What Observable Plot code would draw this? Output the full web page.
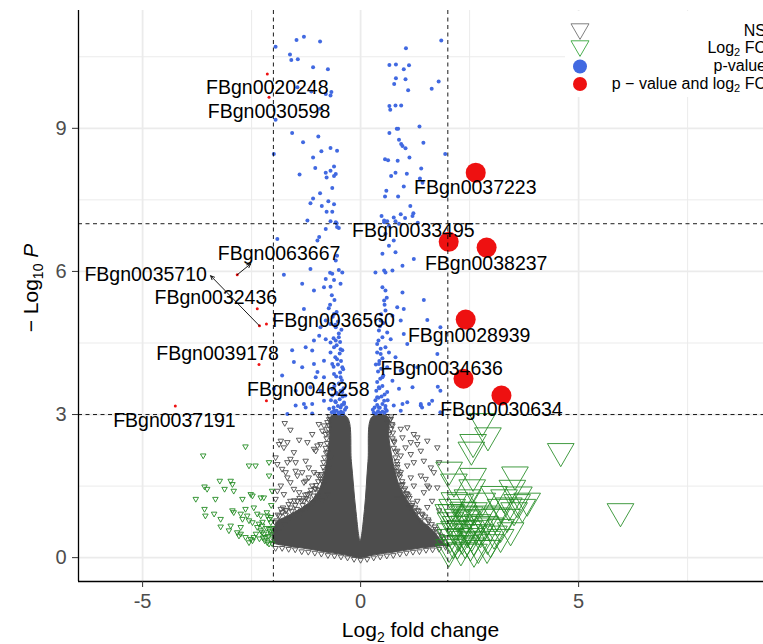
<!DOCTYPE html>
<html><head><meta charset="utf-8">
<script src="https://cdn.jsdelivr.net/npm/d3@7"></script>
<script src="https://cdn.jsdelivr.net/npm/@observablehq/plot@0.6"></script>
<style>
html,body{margin:0;padding:0;background:#fff;overflow:hidden;}
#chart{width:763px;height:644px;}
</style></head><body><div id="chart"></div>
<script>
// ---------- DATA ----------
// significant genes: p-value and log2 FC
const sigGenes = ["FBgn0037223","FBgn0033495","FBgn0038237","FBgn0028939","FBgn0034636","FBgn0030634",
  "FBgn0020248","FBgn0030598","FBgn0063667","FBgn0035710","FBgn0032436","FBgn0036560","FBgn0039178","FBgn0046258","FBgn0037191"];
const sigLog2FC = [2.64,2.02,2.89,2.41,2.36,3.23,-2.14,-2.10,-2.83,-2.32,-2.37,-2.16,-2.33,-2.16,-4.25];
const sigNegLog10P = [8.07,6.62,6.50,4.99,3.75,3.40,10.14,9.65,5.93,4.86,5.22,4.90,4.05,3.29,3.18];

// p-value only (|log2FC| < 2)
const pvalPoints = [
[-1.95,10.71],[-1.47,10.85],[-1.30,10.92],[-0.93,10.82],[-1.62,10.55],[-1.59,10.43],[-1.44,10.45],[-1.09,10.28],[-0.75,10.24],[-1.45,9.86],[-1.13,9.77],[-0.80,9.72],[-0.67,9.76],[-0.69,9.69],[-0.93,9.41],[-1.95,9.18],[-1.57,8.90],[-1.32,8.71],[-0.97,8.83],[-0.69,8.59],[-0.54,8.53],[-0.90,8.52],[-1.99,8.46],[-1.09,8.39],[-0.61,8.20],[-1.04,8.17],[-0.69,8.11],[-0.80,8.07],[-0.57,8.04],[-0.61,8.00],[-1.40,8.03],[-0.78,7.97],[-0.65,7.75],[-0.93,7.64],[-1.09,7.53],[-1.15,7.43],[-0.74,7.47],[-0.61,7.41],[-0.89,7.37],[-0.78,7.25],[-0.65,7.25],[-1.22,7.07],[-0.69,7.05],[-0.55,7.01],[-0.50,6.91],
[1.85,10.84],[1.04,10.68],[0.66,10.33],[0.81,10.34],[1.11,10.32],[0.99,10.24],[0.81,10.05],[1.03,10.03],[0.77,9.93],[1.79,9.98],[1.63,9.83],[1.09,9.80],[0.66,9.47],[0.68,9.39],[0.80,9.48],[0.93,9.48],[0.83,8.99],[0.86,8.99],[1.35,9.04],[0.66,8.90],[0.88,8.76],[1.44,8.70],[0.93,8.67],[0.96,8.63],[1.03,8.58],[1.94,8.46],[0.56,8.35],[0.63,8.33],[0.85,8.32],[1.12,8.39],[1.39,8.16],[0.80,8.07],[1.06,8.05],[0.70,8.00],[1.36,7.95],[1.42,7.86],[0.99,7.78],[0.59,7.69],[0.56,7.57],[0.86,7.57],[1.14,7.37],[0.92,7.20],[1.21,7.22],[1.19,7.16],[0.48,7.16],[0.54,7.07],[0.61,7.05],[0.76,7.13],[0.80,7.05],[1.02,7.12],[1.31,7.02],[0.88,7.00],
[-1.91,6.68],[-0.99,6.65],[-0.95,6.72],[-0.54,6.93],[-0.57,7.03],[-0.80,6.89],[-1.15,6.05],[-1.76,5.93],[-1.34,5.74],[-1.07,5.60],[-0.80,5.84],[-0.70,5.97],[-0.65,5.95],[-0.61,5.82],[-0.69,5.68],[-0.50,6.03],[-0.42,5.98],[-0.46,5.74],[-0.84,5.67],[-0.57,6.23],[-0.54,6.33],[-1.30,5.21],[-0.73,5.23],[-0.61,5.11],[-0.80,4.97],[-0.69,4.90],[-0.57,4.83],[-0.92,4.83],[-0.95,4.65],[-0.80,4.58],[-0.69,4.51],[-0.57,4.55],[-0.50,4.62],[-0.61,4.41],[-0.46,4.37],[-0.69,4.30],[-1.07,4.55],[-1.26,4.41],[-1.57,4.35],[-1.11,4.34],[-1.53,4.10],[-1.34,3.99],[-1.07,4.06],[-0.84,4.13],[-0.65,4.06],[-0.54,4.16],[-0.42,3.99],[-0.99,3.89],[-1.03,3.78],[-0.84,3.78],[-0.61,3.85],[-0.46,3.78],[-1.80,3.82],[-1.99,3.54],[-1.49,3.50],[-1.15,3.57],[-0.92,3.50],[-0.65,3.54],[-0.54,3.43],[-0.42,3.47],[-1.30,3.22],[-0.84,3.29],[-0.57,3.26],[-0.46,3.15],[-0.38,3.22],[-0.61,3.08],[-0.42,3.01],[-0.50,3.02],
[0.54,7.03],[0.65,6.96],[0.57,6.79],[0.76,6.65],[0.65,6.54],[0.50,6.37],[0.80,6.40],[1.22,6.26],[0.96,6.12],[0.34,5.98],[0.54,6.02],[0.57,5.98],[0.73,6.02],[0.50,5.67],[0.57,5.60],[0.96,5.56],[1.45,5.40],[0.54,5.39],[0.84,5.25],[0.99,5.21],[0.57,5.18],[0.73,5.07],[0.46,4.97],[0.92,4.97],[1.53,4.98],[1.83,4.83],[0.42,4.76],[0.61,4.72],[0.99,4.69],[0.69,4.58],[0.38,4.48],[0.57,4.41],[1.07,4.48],[0.46,4.27],[0.65,4.30],[0.80,4.20],[1.76,4.27],[0.42,4.06],[0.61,3.99],[0.92,3.92],[1.30,3.99],[0.50,3.78],[0.73,3.71],[0.42,3.57],[0.61,3.47],[0.88,3.54],[1.19,3.57],[1.83,3.50],[0.38,3.36],[0.54,3.29],[1.07,3.26],[1.38,3.22],[1.64,3.29],[0.42,3.15],[0.57,3.12],[1.41,3.15],[1.83,3.05],[1.77,3.58],
[-1.68,3.01],[-1.49,3.19],[-1.26,3.15],[-1.11,3.22],[-1.11,3.02],[0.76,3.19],[0.92,3.08],[1.38,3.19],[1.57,3.22],[0.96,3.22],
[-0.66,3.05],[-0.60,3.03],[-0.55,3.08],[-0.50,3.04],[-0.45,3.06],[-0.40,3.03],[-0.36,3.10],[-0.62,3.15],[-0.52,3.18],[-0.43,3.20],[-0.38,3.25],[-0.58,3.28],[-0.48,3.32],[-0.41,3.38],[-0.65,3.40],[-0.55,3.45],[-0.46,3.50],[-0.39,3.55],[-0.60,3.60],[-0.50,3.65],[-0.43,3.72],[-0.56,3.80],[-0.47,3.88],[-0.40,3.95],[-0.62,4.00],[-0.52,4.05],[-0.45,4.12],[-0.58,4.20],[-0.48,4.28],[-0.42,4.35],[-0.55,4.45],[-0.47,4.52],[-0.62,4.60],[-0.50,4.70],[-0.44,4.78],[-0.58,4.88],[-0.52,4.95],[-0.64,5.05],[-0.55,5.15],[-0.70,5.30],[-0.60,5.40],[-0.66,5.50],[-0.72,3.12],[-0.68,3.30],[-0.35,3.40],[-0.33,3.15],
[0.30,3.04],[0.35,3.02],[0.40,3.07],[0.45,3.03],[0.50,3.06],[0.55,3.04],[0.60,3.08],[0.32,3.15],[0.38,3.20],[0.44,3.14],[0.50,3.22],[0.57,3.18],[0.34,3.30],[0.41,3.35],[0.48,3.38],[0.55,3.42],[0.36,3.50],[0.43,3.55],[0.50,3.60],[0.38,3.68],[0.45,3.75],[0.52,3.82],[0.40,3.90],[0.47,3.96],[0.35,4.05],[0.43,4.12],[0.50,4.18],[0.38,4.30],[0.46,4.38],[0.41,4.55],[0.50,4.62],[0.44,4.85],[0.52,4.92],[0.47,5.10],[0.55,5.30],[0.60,5.45],[0.62,3.30],[0.28,3.10]
];

// log2 FC only (p > cutoff), down-regulated side
const fcDownPoints = [
[-3.61,2.14],[-2.64,2.33],[-2.56,1.93],[-2.41,1.93],[-2.10,2.00],[-2.10,1.72],[-3.23,1.61],[-2.98,1.61],[-2.94,1.54],[-3.58,1.49],[-3.52,1.44],[-3.12,1.44],[-2.91,1.40],[-2.52,1.33],[-2.48,1.30],[-3.78,1.23],[-3.33,1.23],[-2.71,1.23],[-2.29,1.26],[-2.22,1.26],[-2.03,1.40],[-3.58,1.02],[-3.36,0.92],[-2.94,0.99],[-2.91,0.95],[-2.64,1.02],[-2.75,0.92],[-2.60,0.88],[-2.37,0.92],[-2.29,0.88],[-2.14,0.88],[-2.06,0.85],[-3.56,0.88],[-3.21,0.81],[-2.71,0.81],[-2.56,0.78],[-2.48,0.74],[-2.33,0.71],[-2.26,0.67],[-2.10,0.81],[-2.06,0.74],[-2.98,0.67],[-2.75,0.64],[-3.21,0.65],[-3.02,0.57],[-2.83,0.53],[-2.79,0.46],[-2.64,0.43],[-2.52,0.39],[-2.45,0.43],[-2.26,0.53],[-2.22,0.50],[-2.18,0.43],[-2.14,0.32],[-2.10,0.29],[-2.06,0.50],[-2.56,0.32],[-2.48,0.36],[-2.29,0.57],[-2.37,0.64],[-2.10,0.60],[-2.75,0.50],[-2.20,0.36],[-2.04,0.62],[-2.12,0.45],[-2.40,0.50],[-2.32,0.40],[-2.05,0.38],[-2.25,0.75],[-2.15,0.95],[-2.45,1.05],[-2.05,1.10],[-2.08,0.55],[-2.16,0.62],[-2.03,0.30],[-2.24,0.42]
];
// log2 FC only, up-regulated side
const fcUpPoints = [
[2.79,2.86],[2.92,2.56],[2.58,2.42],[2.54,2.26],[4.59,2.23],[2.03,1.84],[2.58,1.71],[3.54,1.74],[2.14,1.59],[3.48,1.46],[3.63,1.32],[2.56,1.47],[2.45,1.26],[3.59,1.16],[3.40,1.09],[5.96,0.97],[3.21,1.06],[2.79,1.19],[2.29,1.16],[2.10,1.06],[3.13,0.88],[3.36,0.85],[3.52,0.99],[2.60,0.99],[2.91,0.92],[2.22,0.85],[2.06,0.78],[2.37,0.71],[2.68,0.74],[2.98,0.67],[3.21,0.64],[3.44,0.57],[2.14,0.60],[2.45,0.53],[2.75,0.53],[3.06,0.50],[2.06,0.43],[2.33,0.39],[2.60,0.36],[2.91,0.39],[3.21,0.43],[2.22,0.29],[2.52,0.25],[2.03,0.22],[2.75,0.85],[2.37,0.92],[3.82,1.19],[3.71,1.06],[3.29,1.26],[3.06,1.33],[2.01,0.95],[2.98,0.32],
[2.05,0.55],[2.12,0.30],[2.18,0.70],[2.25,0.45],[2.30,0.62],[2.40,0.30],[2.42,0.82],[2.48,0.60],[2.55,0.45],[2.65,0.62],[2.70,0.20],[2.85,0.70],[2.08,0.95],[2.15,1.20],[2.35,1.00],[2.50,0.90],[2.02,0.12],[2.30,0.15],[2.60,0.12],[2.90,0.20]
];

// NS: scattered points around the dense core
const nsPoints = [
[-1.74,2.82],[-1.61,2.68],[-1.83,2.45],[-1.87,2.38],[-1.68,2.42],[-1.41,2.47],[-1.76,2.31],[-1.53,2.21],[-1.95,2.10],[-1.91,1.96],[-1.68,2.00],[-1.61,2.07],[-1.49,2.00],[-1.26,2.03],[-1.80,1.86],[-1.72,1.79],[-1.68,1.68],[-1.49,1.82],[-1.45,1.72],[-1.34,1.79],[-1.19,1.89],[-1.07,2.28],[-1.03,2.24],[-0.99,2.35],[-0.92,2.38],[-0.88,2.66],[-0.84,2.77],[-0.96,2.80],[-0.76,2.84],[-0.80,2.59],[-1.11,2.59],[-1.22,2.42],[-1.30,1.58],[-1.26,1.61],[-1.61,1.58],[-1.83,1.51],[-1.91,1.40],[-1.95,1.23],[-1.76,1.33],[-1.53,1.44],[-1.41,1.37],[-1.19,1.68],[-1.07,1.79],[-0.99,1.75],[-0.92,1.65],[-1.11,1.51],[-1.03,1.44],[-1.22,1.33],[-1.61,1.19],[-1.83,1.02],[-1.72,0.99],[-1.45,1.19],[-1.30,1.19],[-0.99,1.26],[-0.88,1.19],[-0.76,1.33],[-0.84,1.54],[-0.73,1.89],[-0.69,2.10],[-0.76,2.21],[-0.69,2.91],
[0.61,2.84],[0.73,2.77],[0.92,2.70],[1.07,2.73],[1.22,2.59],[1.30,2.52],[1.53,2.45],[1.15,2.42],[1.03,2.31],[0.84,2.24],[0.92,2.14],[1.15,2.17],[1.38,2.24],[1.76,2.31],[1.80,2.00],[1.22,2.00],[1.07,1.93],[0.84,1.96],[0.76,1.82],[0.92,1.79],[1.15,1.68],[1.38,1.72],[1.49,1.65],[1.61,1.89],[1.68,1.79],[0.96,1.54],[1.22,1.51],[1.53,1.51],[1.07,1.33],[0.84,1.23],[1.30,1.19],[1.45,1.37],[1.64,1.19],[1.76,1.47],[1.15,1.06],[1.53,1.06],[1.80,0.99],[0.76,2.45],[0.65,2.59],[0.96,2.52],[1.30,2.38],[1.45,2.03],[1.57,1.47],[0.69,2.91],
[-0.72,2.90],[-0.74,2.70],[-0.78,2.50],[-0.80,2.30],[-0.83,2.10],[-0.86,1.90],[-0.90,1.75],[-0.97,1.60],[-1.05,1.45],[-1.15,1.35],[-1.25,1.25],[-1.35,1.20],[-1.50,1.10],[-1.60,1.05],[-1.70,1.00],[-1.80,0.95],[-1.90,0.90],[-1.97,0.75],[-2.00,0.50],[-1.98,0.35],
[-1.80,0.20],[-1.50,0.17],[-1.20,0.12],[-0.90,0.08],[-0.60,0.04],[-0.30,0.00],[0.00,-0.05],[0.30,0.00],[0.60,0.04],[0.90,0.08],[1.20,0.12],[1.50,0.16],[1.80,0.18],
[0.68,2.90],[0.70,2.70],[0.73,2.50],[0.76,2.30],[0.80,2.10],[0.84,1.90],[0.88,1.75],[0.95,1.60],[1.02,1.45],[1.10,1.30],[1.20,1.15],[1.30,1.00],[1.42,0.90],[1.55,0.80],[1.70,0.65],[1.80,0.55],[1.90,0.40],
[-1.98,0.62],[-1.93,0.78],[-1.86,0.88],[-1.78,1.05],[-1.72,0.90],[-1.65,1.12],[-1.58,0.98],[-1.52,1.20],[-1.46,1.02],[-1.40,1.25],[-1.33,1.10],[-1.27,1.32],[-1.20,1.22],[-1.14,1.42],[-1.08,1.30],[-1.02,1.52],[-0.96,1.42],[-0.92,1.72],[-0.88,1.60],[-0.85,2.00],[-0.82,1.82],[-0.79,2.20],[-0.77,2.40],[-0.75,2.62],[-0.73,2.78],[-0.71,2.96],
[0.70,2.96],[0.72,2.80],[0.74,2.62],[0.77,2.42],[0.80,2.22],[0.83,2.02],[0.86,1.82],[0.90,1.70],[0.94,1.52],[0.99,1.42],[1.05,1.35],[1.12,1.25],[1.18,1.10],[1.25,1.05],[1.33,0.98],[1.40,0.92],[1.48,0.86],[1.56,0.76],[1.63,0.70],[1.72,0.60],[1.78,0.48],[1.86,0.45],[1.93,0.32],[1.97,0.25],
[-1.95,0.20],[-1.65,0.18],[-1.35,0.13],[-1.05,0.10],[-0.75,0.05],[-0.45,0.02],[-0.15,-0.03],[0.15,-0.03],[0.45,0.02],[0.75,0.05],[1.05,0.10],[1.35,0.13],[1.65,0.17],[1.95,0.22],
[-1.88,0.55],[-1.75,0.70],[-1.62,0.82],[-1.48,0.90],[-1.36,0.95],[-1.22,1.05],[-1.10,1.15],[-0.98,1.30],[1.00,1.25],[1.12,1.05],[1.26,0.90],[1.38,0.78],[1.52,0.66],[1.66,0.55],[1.82,0.38]
];
// NS: envelope of the solid, overplotted core (thousands of overlapping points)
const nsCoreLog2FC = [-2.00,-1.9,-1.7,-1.4,-1.1,-0.92,-0.8,-0.7,-0.67,-0.31,-0.2,-0.1,0,0.1,0.18,0.28,0.63,0.66,0.8,0.92,1.15,1.38,1.68,1.85,1.95];
const nsCoreTop    = [0.5,0.75,0.85,1.0,1.2,1.45,1.85,2.5,2.95,2.95,2.0,1.0,0.35,1.0,2.0,2.95,2.95,2.5,1.8,1.45,1.1,0.8,0.55,0.35,0.25];
const nsCoreBottom = [0.3,0.27,0.24,0.2,0.16,0.13,0.11,0.09,0.09,0.04,0.02,0.0,-0.01,0.0,0.02,0.04,0.09,0.09,0.11,0.13,0.16,0.19,0.22,0.24,0.25];

const xTicks = [-5, 0, 5];
const yTicks = [0, 3, 6, 9];
const legendLabels = ["NS", "Log2 FC", "p-value", "p \u2212 value and log2 FC"];

// ---------- LAYOUT (label placement, data units) ----------
const labelX = [2.63,1.21,2.88,2.49,1.86,3.23,-2.14,-2.10,-1.87,-4.93,-3.32,-0.62,-3.28,-1.20,-4.27];
const labelY = [7.75,6.86,6.17,4.65,3.96,3.10,9.86,9.34,6.37,5.93,5.44,4.97,4.27,3.52,2.87];
const arrowGenes = ["FBgn0063667","FBgn0035710"];
const arrowEndX = [-2.52,-3.44];
const arrowEndY = [6.16,5.91];

// ---------- BUILD ----------
const FONT = "'Liberation Sans', Arial, Helvetica, sans-serif";
const toXY = a => a.map(([x,y]) => ({x, y}));
const sig = sigGenes.map((g,i) => ({gene:g, x:sigLog2FC[i], y:sigNegLog10P[i], lx:labelX[i], ly:labelY[i]}));
const sigUp = sig.filter(d => d.x > 0), sigDown = sig.filter(d => d.x < 0);
const arrows = arrowGenes.map((g,i) => { const d = sig.find(s => s.gene === g); return {x1:d.x, y1:d.y, x2:arrowEndX[i], y2:arrowEndY[i]}; });
const core = nsCoreLog2FC.map((x,i) => ({x, top:nsCoreTop[i], bottom:nsCoreBottom[i]}));

const triDown = { draw(ctx, size) { const R = Math.sqrt(size/Math.PI), hw = R*0.866; ctx.moveTo(0,R); ctx.lineTo(-hw,-R/2); ctx.lineTo(hw,-R/2); ctx.closePath(); } };

const GRAY = "#4d4d4d", GREEN = "#228B22", BLUE = "#4169E1", RED = "#EE1111";

const svg = Plot.plot({
  width: 763, height: 644,
  marginLeft: 78, marginRight: 0, marginTop: 10, marginBottom: 63,
  x: {domain: [-6.47, 9.24]},
  y: {domain: [-0.5, 11.47]},
  style: {fontFamily: FONT, background: "white", overflow: "hidden"},
  marks: [
    Plot.gridX([-2.5, 2.5, 7.5], {stroke: "#ebebeb", strokeOpacity: 1, strokeWidth: 1}),
    Plot.gridY([1.5, 4.5, 7.5, 10.5], {stroke: "#ebebeb", strokeOpacity: 1, strokeWidth: 1}),
    Plot.gridX(xTicks, {stroke: "#ebebeb", strokeOpacity: 1, strokeWidth: 1.8}),
    Plot.gridY(yTicks, {stroke: "#ebebeb", strokeOpacity: 1, strokeWidth: 1.8}),
    Plot.areaY(core, {x: "x", y1: "bottom", y2: "top", fill: GRAY, stroke: GRAY, strokeWidth: 1, curve: "catmull-rom"}),
    Plot.dot(toXY(nsPoints), {x: "x", y: "y", symbol: triDown, r: 3.2, stroke: GRAY, strokeWidth: 0.9, fill: "none"}),
    Plot.dot(toXY(fcDownPoints), {x: "x", y: "y", symbol: triDown, r: 3.2, stroke: GREEN, strokeWidth: 0.9, fill: "none"}),
    Plot.dot(toXY(fcUpPoints), {x: "x", y: "y", symbol: triDown, r: 15.4, stroke: GREEN, strokeWidth: 1, strokeOpacity: 0.85, fill: "none"}),
    Plot.dot(toXY(pvalPoints), {x: "x", y: "y", r: 2, fill: BLUE}),
    Plot.dot(sigDown, {x: "x", y: "y", r: 1.5, fill: RED}),
    Plot.dot(sigUp, {x: "x", y: "y", r: 10, fill: RED}),
    Plot.arrow(arrows, {x1: "x1", y1: "y1", x2: "x2", y2: "y2", stroke: "black", strokeWidth: 0.9, headLength: 7, headAngle: 50}),
    Plot.text(sig, {x: "lx", y: "ly", text: "gene", fontSize: 19.5, fill: "black", fontFamily: FONT}),
    Plot.ruleX([-2, 2], {stroke: "black", strokeWidth: 0.9, strokeDasharray: "4,3.5"}),
    Plot.ruleY([3, 7], {stroke: "black", strokeWidth: 0.9, strokeDasharray: "4,3.5"}),
    Plot.ruleX([-6.47], {stroke: "black", strokeWidth: 1.3}),
    Plot.ruleY([-0.5], {stroke: "black", strokeWidth: 1.3}),
    Plot.axisX({ticks: xTicks, tickFormat: d => String(d), tickSize: 6, tickPadding: 6, fontSize: 20, fill: GRAY, stroke: "#333", label: null}),
    Plot.axisY({ticks: yTicks, tickFormat: d => String(d), tickSize: 6, tickPadding: 6, fontSize: 20, fill: GRAY, stroke: "#333", label: null})
  ]
});

const s = d3.select(svg);
// axis titles
const xt = s.append("text").attr("x", 420.5).attr("y", 637).attr("text-anchor", "middle")
  .attr("font-size", 21).attr("fill", "black").attr("font-family", FONT);
xt.append("tspan").text("Log");
xt.append("tspan").attr("dy", 5).attr("font-size", 14).text("2");
xt.append("tspan").attr("dy", -5).text(" fold change");

const yt = s.append("text").attr("transform", "translate(38,288) rotate(-90)").attr("text-anchor", "middle")
  .attr("font-size", 21).attr("fill", "black").attr("font-family", FONT);
yt.append("tspan").text("\u2212 Log");
yt.append("tspan").attr("dy", 5).attr("font-size", 14).text("10");
yt.append("tspan").attr("dy", -5).text(" ");
yt.append("tspan").attr("font-style", "italic").text("P");

// legend (clipped at the right edge like the reference)
const lg = s.append("g");
lg.append("rect").attr("x", 565).attr("y", 11).attr("width", 210).attr("height", 86).attr("fill", "white");
const tri = (cx, cy, R) => { const hw = R*0.866; return `M${cx},${cy+R}L${cx-hw},${cy-R/2}L${cx+hw},${cy-R/2}Z`; };
lg.append("path").attr("d", tri(580, 29, 10.4)).attr("fill", "none").attr("stroke", "#808080").attr("stroke-width", 1);
lg.append("path").attr("d", tri(580, 46, 10.4)).attr("fill", "none").attr("stroke", "#4CAF50").attr("stroke-width", 1);
lg.append("circle").attr("cx", 580).attr("cy", 66.5).attr("r", 7).attr("fill", BLUE);
lg.append("circle").attr("cx", 580).attr("cy", 84).attr("r", 7).attr("fill", RED);
const legY = [36, 53, 71, 89];
legendLabels.forEach((lab, i) => {
  const t = lg.append("text").attr("x", 766).attr("y", legY[i]).attr("text-anchor", "end")
    .attr("font-size", 16).attr("fill", "black").attr("font-family", FONT);
  const parts = lab.split("2");
  if (parts.length === 1) { t.text(lab); return; }
  t.append("tspan").text(parts[0]);
  t.append("tspan").attr("dy", 3).attr("font-size", 11).text("2");
  t.append("tspan").attr("dy", -3).text(parts[1]);
});

document.getElementById("chart").appendChild(svg);
</script>
</body></html>
